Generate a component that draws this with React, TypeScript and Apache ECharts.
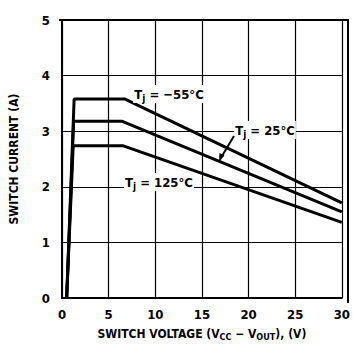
import React, { useEffect, useRef } from "react";
import * as echarts from "echarts";

const xTicks = [0, 5, 10, 15, 20, 25, 30];
const yTicks = [0, 1, 2, 3, 4, 5];
const curveM55: [number, number][] = [[0.5, 0], [1.3, 3.58], [6.7, 3.58], [30, 1.71]];
const curve25: [number, number][] = [[0.5, 0], [1.25, 3.18], [6.4, 3.18], [30, 1.55]];
const curve125: [number, number][] = [[0.5, 0], [1.2, 2.74], [6.5, 2.74], [30, 1.36]];
const seriesNames = ["Tj = -55°C", "Tj = 25°C", "Tj = 125°C"];

const FONT = "'Liberation Sans Narrow', 'Arial Narrow', 'DejaVu Sans Condensed', 'Liberation Sans', sans-serif";

export default function App() {
  const ref = useRef<HTMLDivElement>(null);
  useEffect(() => {
    document.body.style.margin = "0";
    const chart = echarts.init(ref.current!, null, { renderer: "svg" });
    const lineStyle = { color: "#000", width: 3 };
    const rich = {
      t: { fontFamily: FONT, fontSize: 13, fontWeight: "bold" as const, color: "#000" },
      s: { fontFamily: FONT, fontSize: 10, fontWeight: "bold" as const, color: "#000", verticalAlign: "bottom" as const, padding: [8, 0, 0, 0] },
    };
    const lbl = (x: number, y: number, temp: string) => ({
      type: "text",
      x,
      y,
      z: 100,
      style: {
        text: `{t|T}{s|j}{t|${temp}}`,
        rich,
        backgroundColor: "#fff",
        padding: [0, 1, 0, 1],
        align: "center",
        verticalAlign: "middle",
      },
    });
    chart.setOption({
      animation: false,
      backgroundColor: "#fff",
      grid: { left: 59, right: 5, top: 20, bottom: 44 },
      xAxis: {
        type: "value",
        min: 0,
        max: 30,
        interval: 5,
        name: "{t|SWITCH VOLTAGE (V}{s|CC}{t| \u2212 V}{s|OUT}{t|), (V)}",
        nameLocation: "middle",
        nameGap: 28,
        nameTextStyle: {
          rich: {
            t: { fontFamily: FONT, fontSize: 12, color: "#000", fontWeight: "bold" },
            s: { fontFamily: FONT, fontSize: 9, color: "#000", fontWeight: "bold", padding: [6, 0, 0, 0] },
          },
        },
        axisLine: { show: true, onZero: false, lineStyle: { color: "#000", width: 2 } },
        axisTick: { show: false },
        axisLabel: { color: "#000", fontFamily: FONT, fontSize: 13, fontWeight: "bold", margin: 10, formatter: (v: number) => (xTicks.includes(v) ? String(v) : "") },
        splitLine: { show: true, lineStyle: { color: "#000", width: 1.2 } },
      },
      yAxis: {
        type: "value",
        min: 0,
        max: 5,
        interval: 1,
        name: "SWITCH CURRENT (A)",
        nameLocation: "middle",
        nameGap: 42,
        nameTextStyle: { fontFamily: FONT, fontSize: 12, color: "#000", fontWeight: "bold" },
        axisLine: { show: true, onZero: false, lineStyle: { color: "#000", width: 2 } },
        axisTick: { show: false },
        axisLabel: { color: "#000", fontFamily: FONT, fontSize: 13, fontWeight: "bold", margin: 12, formatter: (v: number) => (yTicks.includes(v) ? String(v) : "") },
        splitLine: { show: true, lineStyle: { color: "#000", width: 1.2 } },
      },
      series: [curveM55, curve25, curve125].map((d, i) => ({
        name: seriesNames[i],
        type: "line",
        data: d,
        symbol: "none",
        lineStyle,
        z: 5,
      })),
      graphic: [
        { type: "rect", shape: { x: 347, y: 20, width: 2, height: 283 }, style: { fill: "#000" }, z: 50 },
        { type: "rect", shape: { x: 59, y: 19, width: 290, height: 2 }, style: { fill: "#000" }, z: 50 },
        lbl(169, 94, " = \u221255°C"),
        lbl(265, 130, " = 25°C"),
        lbl(159, 182, " = 125°C"),
        { type: "line", shape: { x1: 234, y1: 136, x2: 222, y2: 156 }, style: { stroke: "#000", lineWidth: 2 }, z: 101 },
        { type: "polygon", shape: { points: [[219, 162], [224.5, 155.5], [219.5, 153]] }, style: { fill: "#000" }, z: 101 },
      ],
    });
    return () => chart.dispose();
  }, []);
  return <div ref={ref} style={{ width: 353, height: 346 }} />;
}
